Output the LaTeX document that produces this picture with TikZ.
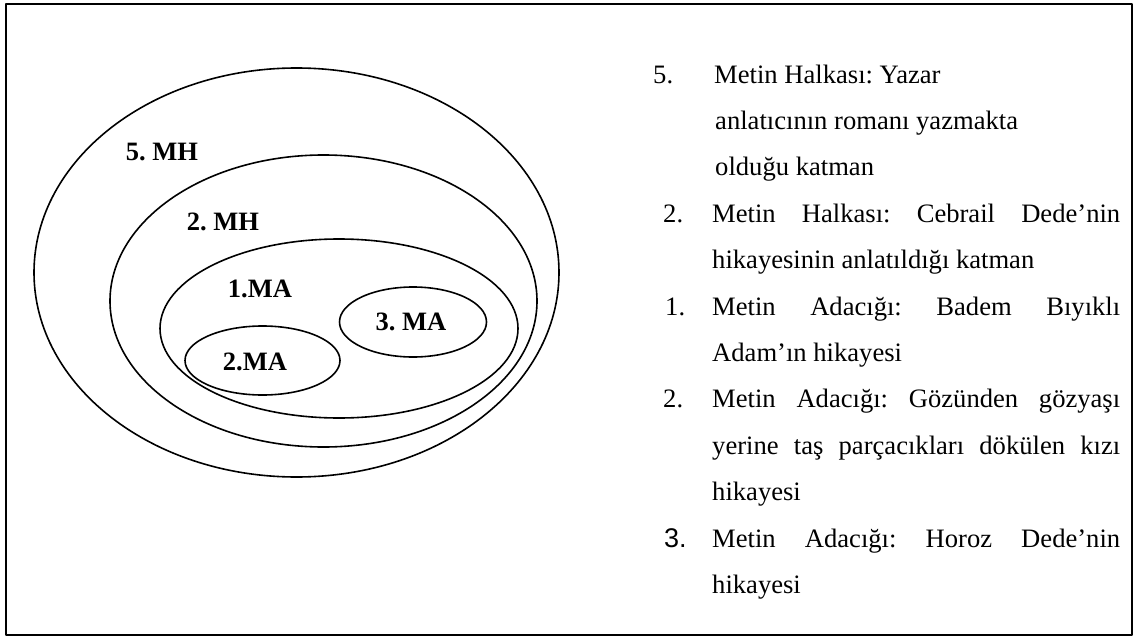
\documentclass[tikz,border=0pt]{standalone}
\usepackage{fontspec}
\setmainfont{Liberation Serif}
\newfontfamily\numfont{Liberation Sans}
\usepackage{tikz}
\usetikzlibrary{shapes.geometric}
\frenchspacing
\newcommand{\justline}[1]{\makebox[408pt][s]{#1}}

\begin{document}
\begin{tikzpicture}[line cap=round,line join=round,x=1pt,y=-1pt,
  ring/.style={draw,ellipse,line width=1.6pt,inner sep=0pt},
  lbl/.style={font=\bfseries\fontsize{26.5}{31}\selectfont},
  txt/.style={anchor=base west,inner sep=0pt,font=\fontsize{26.6}{31}\selectfont}]
      \useasboundingbox (0,0) rectangle (1136,637);
      \draw[line width=2pt,line cap=butt] (6,3.5) rectangle (1132,635);
      % halkalar ve adaciklar
      \node[ring,minimum width=525pt,minimum height=409pt] (mh5) at (296.5,272.5) {};
      \node[ring,minimum width=427pt,minimum height=292pt] (mh2) at (323.5,301) {};
      \node[ring,minimum width=358pt,minimum height=179pt] (ma1) at (339,328.5) {};
      \node[ring,minimum width=155pt,minimum height=69pt] (ma2) at (262.5,360.5) {};
      \node[ring,minimum width=147pt,minimum height=70pt] (ma3) at (413,322) {};
      \node[lbl] (lmh5) at (162,152) {5. MH};
      \node[lbl] (lmh2) at (223,222) {2. MH};
      \node[lbl] (lma1) at (260,289) {1.MA};
      \node[lbl] (lma2) at (255,362) {2.MA};
      \node[lbl] (lma3) at (411,322) {3. MA};
      % aciklamalar
      \node[txt] (n5) at (653,83) {5.};
      \node[txt] (t1) at (714,83) {Metin Halkası: Yazar};
      \node[txt] (t2) at (715,129.4) {anlatıcının romanı yazmakta};
      \node[txt] (t3) at (715,175.8) {olduğu katman};
      \node[txt] (n2) at (663,222.2) {2.};
      \node[txt] (t4) at (712,222.2) {\justline{Metin Halkası: Cebrail Dede’nin}};
      \node[txt] (t5) at (712,268.6) {hikayesinin anlatıldığı katman};
      \node[txt] (n1) at (665,315) {1.};
      \node[txt] (t6) at (712,315) {\justline{Metin Adacığı: Badem Bıyıklı}};
      \node[txt] (t7) at (712,361.4) {Adam’ın hikayesi};
      \node[txt] (n2b) at (663,407.8) {2.};
      \node[txt] (t8) at (712,407.8) {\justline{Metin Adacığı: Gözünden gözyaşı}};
      \node[txt] (t9) at (712,454.2) {\justline{yerine taş parçacıkları dökülen kızı}};
      \node[txt] (t10) at (712,500.6) {hikayesi};
      \node[txt,font=\numfont\fontsize{27}{31}\selectfont] (n3) at (664,547) {3.};
      \node[txt] (t11) at (712,547) {\justline{Metin Adacığı: Horoz Dede’nin}};
      \node[txt] (t12) at (712,593.4) {hikayesi};
\end{tikzpicture}
\end{document}
